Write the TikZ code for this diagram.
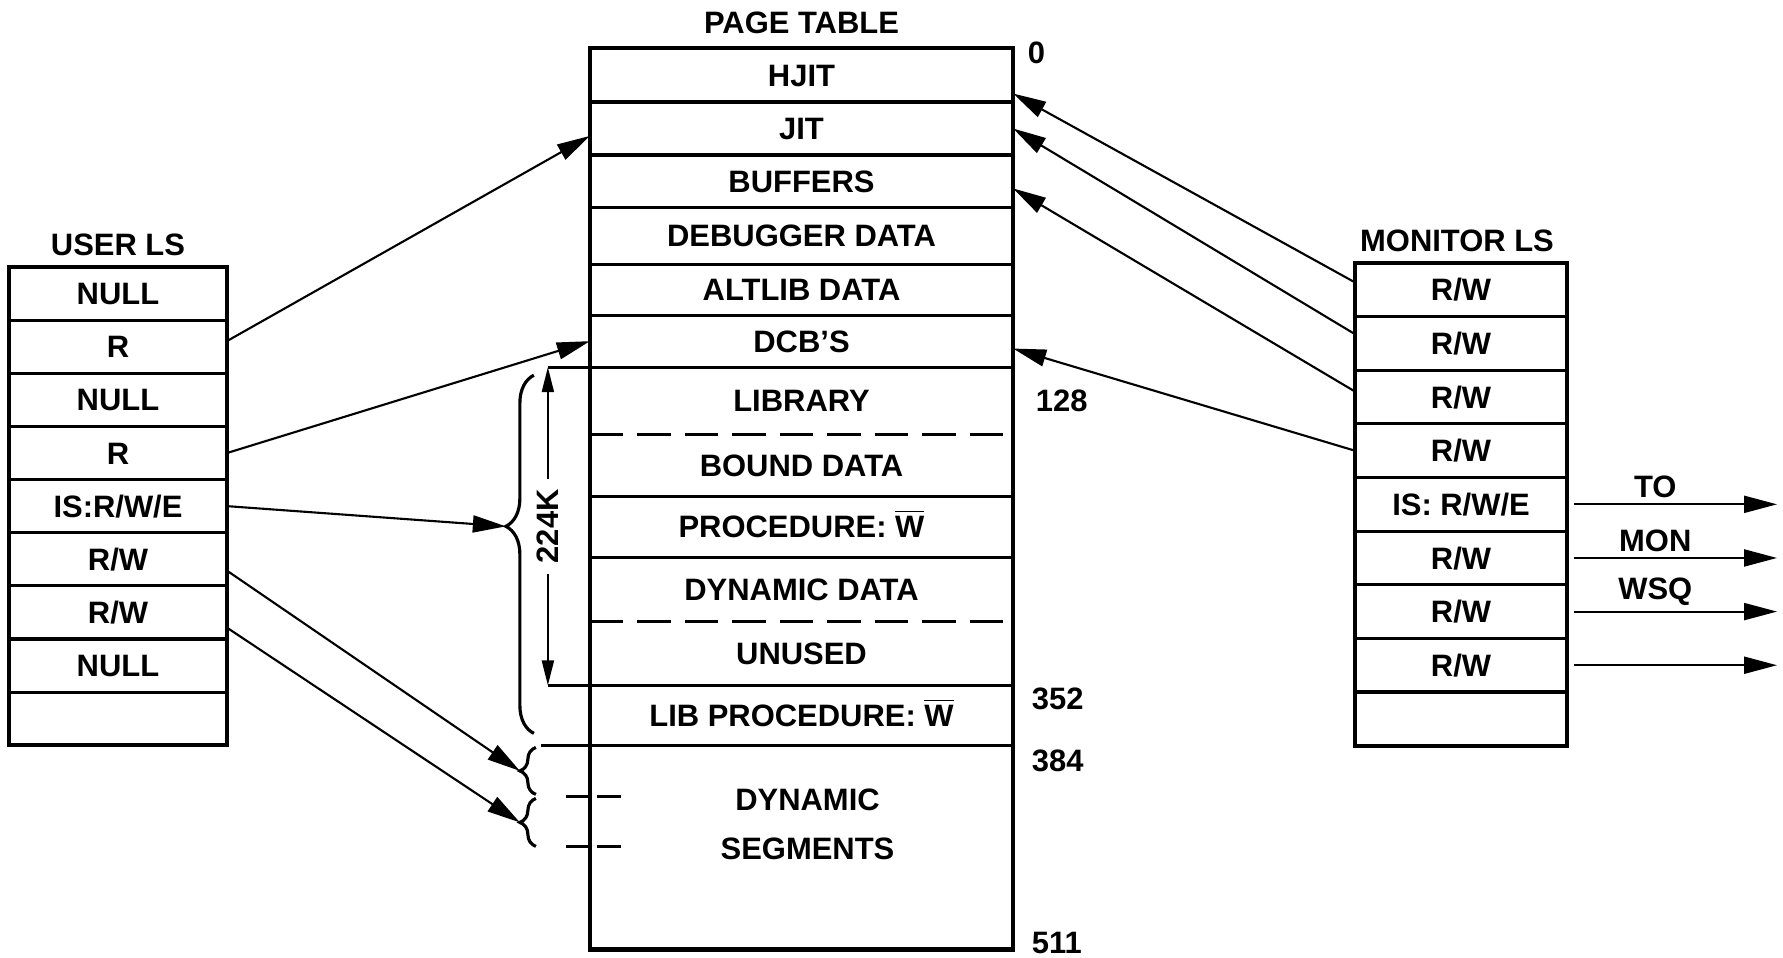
\documentclass[tikz,border=0pt]{standalone}
\usepackage{fontspec}
\setmainfont{Liberation Sans}
\usepackage{tikz}
\usetikzlibrary{arrows.meta,calc,chains,positioning}
\usetikzlibrary{decorations.pathreplacing}

\newcommand{\nowrite}{$\overline{\mbox{W}}$}

\begin{document}
\begin{tikzpicture}[x=0.01cm, y=-0.01cm, node distance=0pt,
    font=\fontsize{8.8}{10.5}\selectfont\bfseries,
    cell/.style={text height=6.3pt, text depth=0pt, inner sep=0pt, outer sep=0pt, on chain},
    urow/.style={cell, draw, line width=0.9pt, minimum width=2.18cm, minimum height=0.531cm},
    mrow/.style={cell, draw, line width=0.9pt, minimum width=2.12cm, minimum height=0.536cm},
    prow/.style={cell, minimum width=4.23cm, minimum height=#1},
    frame/.style={line width=1.2pt},
    sep/.style={line width=0.9pt},
    dsep/.style={sep, dash pattern=on 9.5pt off 4pt},
    tick/.style={line width=0.9pt, dash pattern=on 7pt off 1.8pt},
    title/.style={inner sep=1pt},
    addr/.style={anchor=west, inner sep=0pt},
    link/.style={line width=0.6pt, -{Triangle[length=0.33cm,width=0.17cm]}},
    dim/.style={line width=0.6pt, {Triangle[length=0.25cm,width=0.12cm]}-{Triangle[length=0.25cm,width=0.12cm]}},
    curly/.style={line width=0.9pt, decorate, decoration={brace, amplitude=#1}}]

\useasboundingbox (0,0) rectangle (1783,957);

% user local segment table
\begin{scope}[shift={(118,293.6)}, start chain=utab going below]
  \foreach \n/\t in {1/NULL, 2/R, 3/NULL, 4/R, 5/{IS:R/W/E}, 6/{R/W}, 7/{R/W}, 8/NULL, 9/{}}
    \node[urow] (u\n) {\t};
\end{scope}
\draw[frame] (u1.north west) rectangle (u9.south east);
\node[title, above=2pt of u1] (user) {USER LS};

% page table
\begin{scope}[shift={(801.5,75)}, start chain=ptab going below]
  \foreach \n/\h/\t in {1/0.54cm/HJIT, 2/0.53cm/JIT, 3/0.52cm/BUFFERS, 4/0.57cm/DEBUGGER DATA,
      5/0.51cm/ALTLIB DATA, 6/0.52cm/DCB'S, 7/0.67cm/LIBRARY, 8/0.62cm/BOUND DATA,
      9/0.61cm/PROCEDURE: \nowrite, 10/0.64cm/DYNAMIC DATA, 11/0.64cm/UNUSED,
      12/0.60cm/LIB PROCEDURE: \nowrite, 13/2.04cm/{}}
    \node[prow=\h] (p\n) {\t};
\end{scope}
\node[align=center] (dyn) at ($(p13.north)+(6,78.5)$) {DYNAMIC\\[3.4pt]SEGMENTS};
\node[title, above=2.7pt of p1] (ptitle) {PAGE TABLE};

\foreach \n in {1,2,3,4,5,8,9}
  \draw[sep] (p\n.south west) -- (p\n.south east);
\foreach \n in {7,10}
  \draw[dsep] (p\n.south west) -- (p\n.south east);

\coordinate (ktop) at ($(p7.north west)+(-42,0)$);
\coordinate (kbot) at ($(p12.north west)+(-42,0)$);
\coordinate (kseg) at ($(p13.north west)+(-49,0)$);
\draw[sep] (p7.north east) -- (ktop);
\draw[sep] (p12.north east) -- (kbot);
\draw[sep] (p13.north east) -- (kseg);
\draw[frame] (p1.north west) rectangle (p13.south east);

\draw[dim] (ktop) -- node[fill=white, rotate=90, inner sep=3pt] (klbl) {224K} (kbot);

% page numbers
\node[addr] (a0) at ($(p1.north east)+(14,5)$) {0};
\node[addr] (a128) at ($(p7.east)+(22,0)$) {128};
\node[addr] (a352) at ($(p12.north east)+(18,13)$) {352};
\node[addr] (a384) at ($(p13.north east)+(18,15)$) {384};
\node[addr] (a511) at ($(p13.south east)+(18,-7)$) {511};

% braces
\coordinate (bbtop) at ($(p7.north west)+(-56,8)$);
\coordinate (bbbot) at ($(p12.south west)+(-56,-12)$);
\draw[curly=0.28cm, decoration={aspect=0.578}] (bbbot) -- (bbtop);
\coordinate (bbtip) at ($(bbbot)!0.578!(bbtop)+(-28,0)$);

\coordinate (s1top) at ($(p13.north west)+(-54,2)$);
\coordinate (s1bot) at ($(p13.north west)+(-54,49)$);
\coordinate (s2top) at ($(p13.north west)+(-54,53)$);
\coordinate (s2bot) at ($(p13.north west)+(-54,101)$);
\draw[curly=0.16cm] (s1bot) -- (s1top);
\draw[curly=0.16cm] (s2bot) -- (s2top);
\coordinate (s1tip) at ($(s1bot)!0.5!(s1top)+(-16,0)$);
\coordinate (s2tip) at ($(s2bot)!0.5!(s2top)+(-16,0)$);

\coordinate (d1) at ($(p13.north west)+(-24,51)$);
\coordinate (d2) at ($(p13.north west)+(-24,101)$);
\draw[tick] (d1) -- ($(d1)+(59,0)$);
\draw[tick] (d2) -- ($(d2)+(59,0)$);

% monitor local segment table
\begin{scope}[shift={(1461,289.8)}, start chain=mtab going below]
  \foreach \n/\t in {1/{R/W}, 2/{R/W}, 3/{R/W}, 4/{R/W}, 5/{IS: R/W/E}, 6/{R/W}, 7/{R/W}, 8/{R/W}, 9/{}}
    \node[mrow] (m\n) {\t};
\end{scope}
\draw[frame] (m1.north west) rectangle (m9.south east);
\node[title, above=2.1pt of m1, xshift=-0.04cm] (mon) {MONITOR LS};

% user ls -> page table
\draw[link] (u2.3) -- (p2.182);
\draw[link] (u4.east) -- (p6.west);
\draw[link] (u5.east) -- (bbtip);
\draw[link] (u6.-6) -- (s1tip);
\draw[link] (u7.-8) -- (s2tip);

% monitor ls -> page table
\draw[link] (m1.176) -- (p1.-5);
\draw[link] (m2.175) -- (p2.east);
\draw[link] (m3.177) -- (p3.-2);
\draw[link] (m4.west) -- (p6.-2);

% out to the monitor wsq
\coordinate (rim) at (1777,0);
\draw[link, shorten <=2pt] (m5.east) -- node[pos=0.42, above, inner sep=1.5pt] (lto) {TO} (m5.east -| rim);
\draw[link, shorten <=2pt] (m6.east) -- node[pos=0.42, above, inner sep=1.5pt] (lmon) {MON} (m6.east -| rim);
\draw[link, shorten <=2pt] (m7.east) -- node[pos=0.42, above, inner sep=1.5pt] (lwsq) {WSQ} (m7.east -| rim);
\draw[link, shorten <=2pt] (m8.east) -- (m8.east -| rim);

\end{tikzpicture}
\end{document}
